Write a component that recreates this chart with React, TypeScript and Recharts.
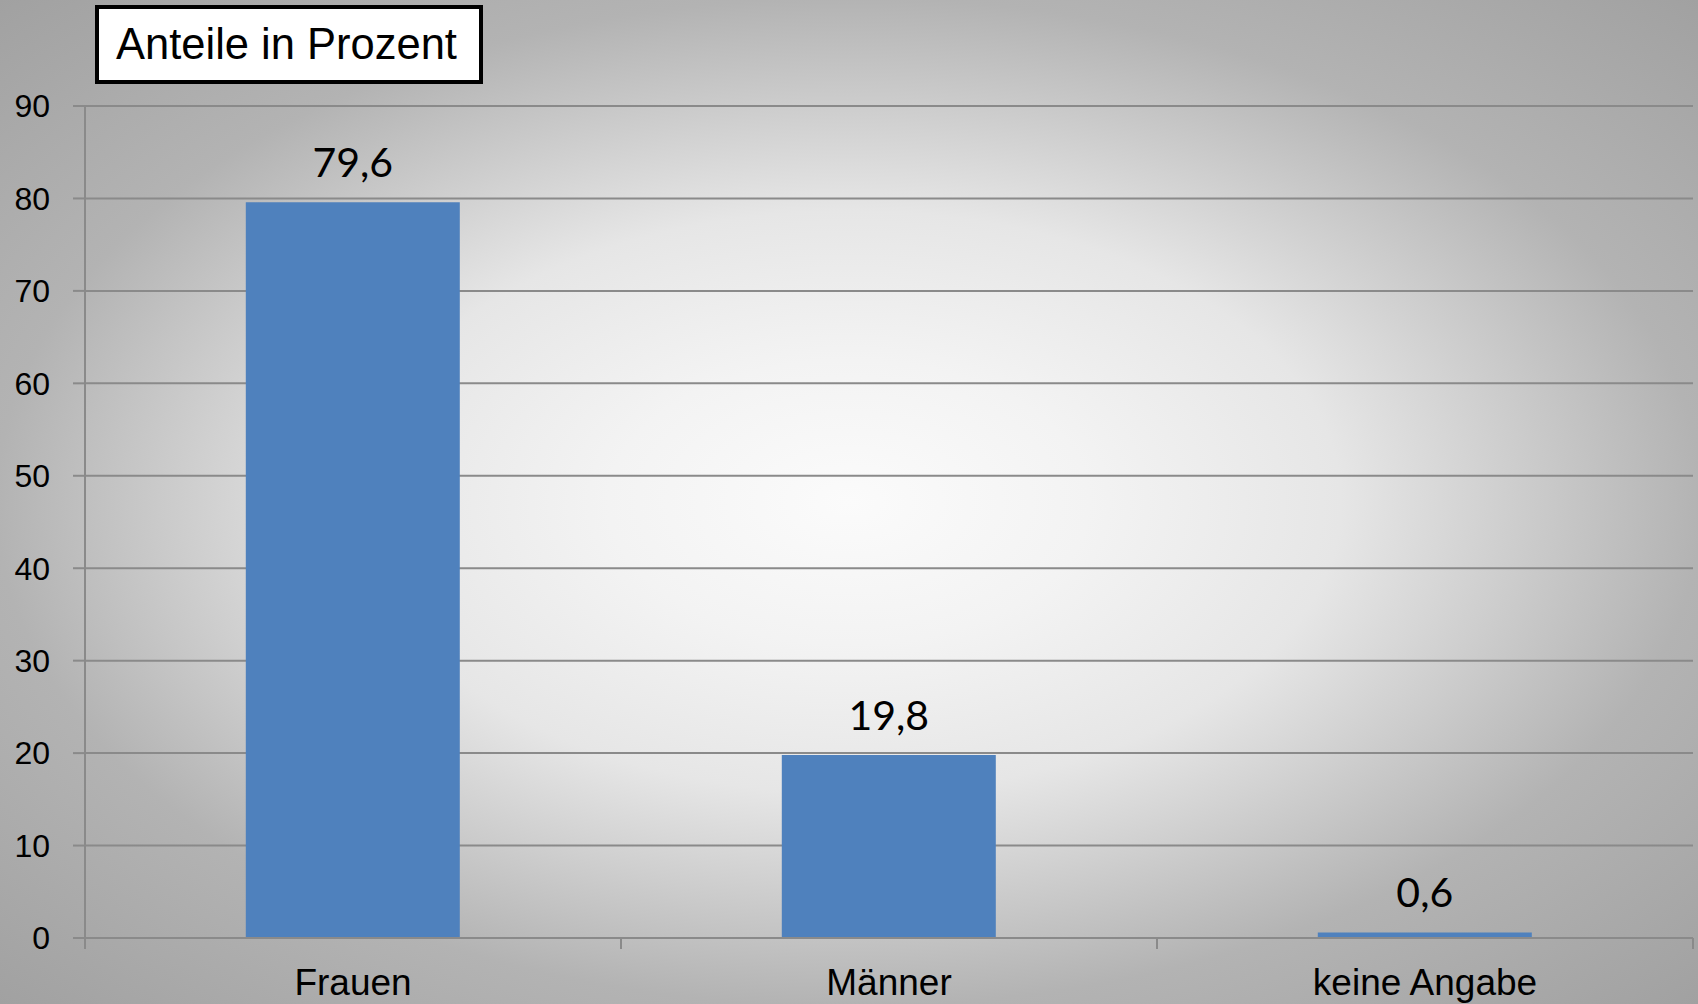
import { Bar, BarChart, CartesianGrid, LabelList, XAxis, YAxis } from "recharts";

const categories = ["Frauen", "Männer", "keine Angabe"];
const shares = [79.6, 19.8, 0.6];
const yTicks = [0, 10, 20, 30, 40, 50, 60, 70, 80, 90];
const edgeTicks = [0, 1, 2, 3];

const rows = categories.map((name, i) => ({ name, idx: i + 0.5, value: shares[i] }));

const GRID = "#8a8a8a";

export default function App() {
  return (
    <div
      style={{
        position: "absolute",
        left: 0,
        top: 0,
        width: 1698,
        height: 1004,
        overflow: "hidden",
        background:
          "radial-gradient(ellipse farthest-corner at 50% 50%, #fbfbfb 0%, #f3f3f3 20%, #e6e6e6 41%, #b3b3b3 71%, #a1a1a1 100%)",
        fontFamily: "'Liberation Sans', Arial, sans-serif",
      }}
    >
      <BarChart
        width={1698}
        height={1004}
        data={rows}
        margin={{ top: 106, right: 5, left: 0, bottom: 0 }}
        barCategoryGap="30%"
      >
        <CartesianGrid xAxisId="b_cat" vertical={false} stroke={GRID} strokeWidth={2} />
        <XAxis
          xAxisId="a_edges"
          type="number"
          dataKey="idx"
          domain={[0, 3]}
          ticks={edgeTicks}
          height={1}
          tickSize={11}
          stroke={GRID}
          axisLine={{ stroke: GRID, strokeWidth: 2 }}
          tickLine={{ stroke: GRID, strokeWidth: 2 }}
          tick={() => <g />}
        />
        <XAxis
          xAxisId="b_cat"
          dataKey="name"
          height={65}
          axisLine={false}
          tickLine={false}
          tickSize={0}
          tickMargin={30}
          tick={{ fill: "#000", fontSize: 37 }}
        />
        <YAxis
          width={85}
          domain={[0, 90]}
          ticks={yTicks}
          interval={0}
          tickSize={12}
          tickMargin={23}
          axisLine={{ stroke: GRID, strokeWidth: 2 }}
          tickLine={{ stroke: GRID, strokeWidth: 2 }}
          tick={{ fill: "#000", fontSize: 32 }}
        />
        <Bar xAxisId="b_cat" dataKey="value" fill="#4f81bd" isAnimationActive={false}>
          <LabelList
            dataKey="value"
            position="top"
            offset={25}
            formatter={(v: any) => String(v).replace(".", ",")}
            style={{ fill: "#000", fontSize: 41, fontFamily: "Lato, 'Open Sans', sans-serif" }}
          />
        </Bar>
      </BarChart>
      <div
        style={{
          position: "absolute",
          left: 95,
          top: 5,
          width: 388,
          height: 79,
          boxSizing: "border-box",
          border: "4px solid #000",
          background: "#fff",
          display: "flex",
          alignItems: "center",
          paddingLeft: 17,
          fontSize: 43.5,
          color: "#000",
          whiteSpace: "nowrap",
        }}
      >
        Anteile in Prozent
      </div>
    </div>
  );
}
